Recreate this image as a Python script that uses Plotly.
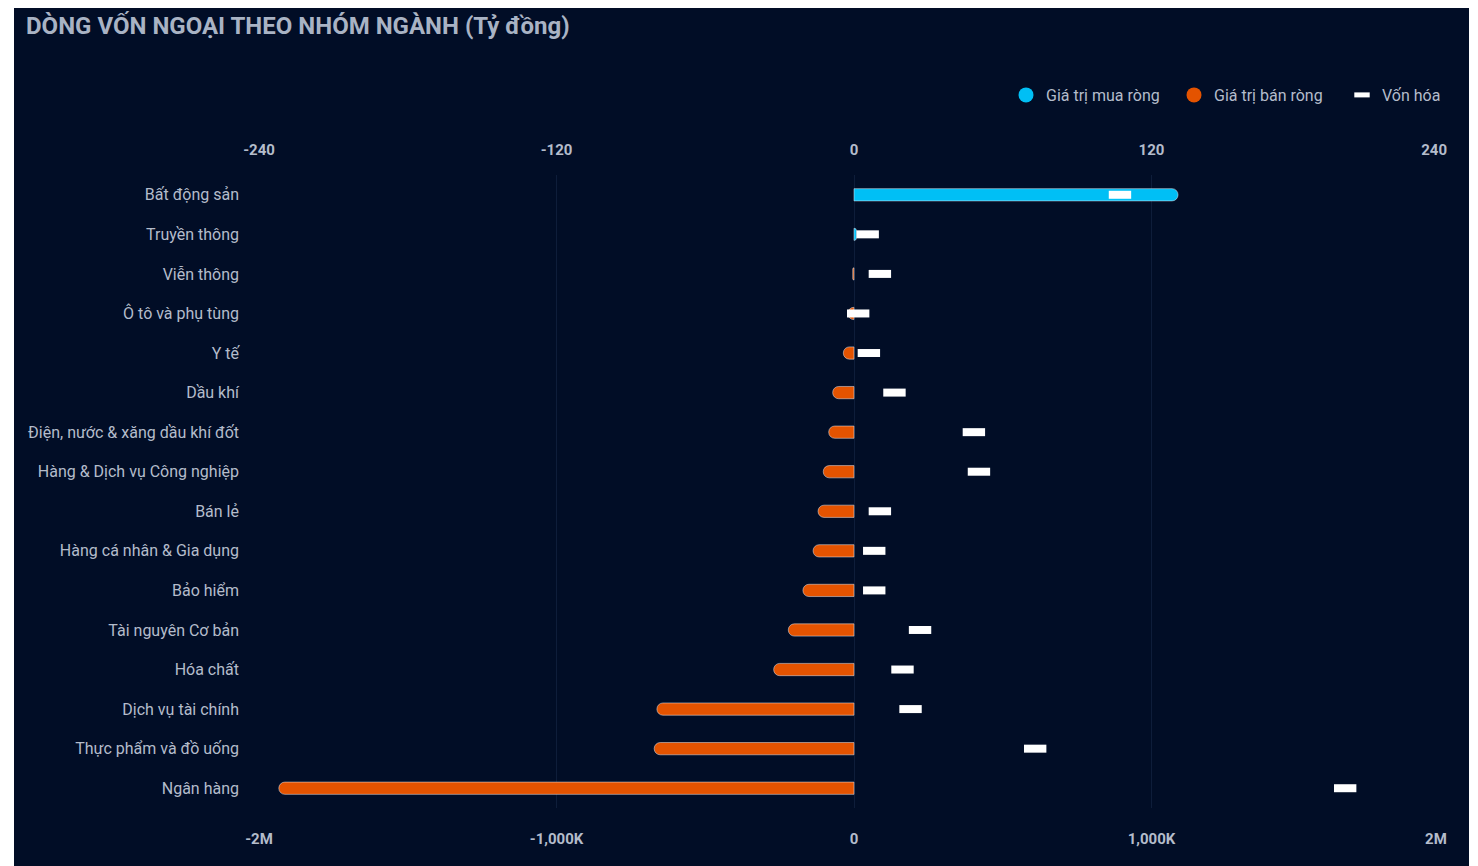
import plotly.graph_objects as go

categories = [
    "Bất động sản", "Truyền thông", "Viễn thông", "Ô tô và phụ tùng", "Y tế",
    "Dầu khí", "Điện, nước & xăng dầu khí đốt", "Hàng & Dịch vụ Công nghiệp",
    "Bán lẻ", "Hàng cá nhân & Gia dụng", "Bảo hiểm", "Tài nguyên Cơ bản",
    "Hóa chất", "Dịch vụ tài chính", "Thực phẩm và đồ uống", "Ngân hàng",
]
net_buy = [130.7, 1.0, None, None, None, None, None, None,
           None, None, None, None, None, None, None, None]
net_sell = [None, None, -0.5, -2.5, -4.3, -8.6, -10.2, -12.4,
            -14.5, -16.5, -20.6, -26.5, -32.4, -79.5, -80.6, -232.0]
market_cap = [894e3, 46e3, 87e3, 14e3, 50e3, 136e3, 403e3, 420e3,
              87e3, 68e3, 68e3, 222e3, 163e3, 190e3, 609e3, 1651e3]

top_ticks = [-240, -120, 0, 120, 240]
top_labels = ["-240", "-120", "0", "120", "240"]
bottom_ticks = [-2e6, -1e6, 0, 1e6, 2e6]
bottom_labels = ["-2M", "-1,000K", "0", "1,000K", "2M"]

BG = "#010d26"
BLUE = "#00bff5"
ORANGE = "#e45300"
TXT = "#b4bccb"
GRID = "#0e1d3a"
FONT = "Roboto"
NB = "\u00a0"

fig = go.Figure()
fig.add_trace(go.Bar(y=categories, x=net_buy, orientation="h", marker=dict(color=BLUE, cornerradius=6),
                     width=0.31, name="Giá trị mua ròng", showlegend=False, xaxis="x", yaxis="y"))
fig.add_trace(go.Bar(y=categories, x=net_sell, orientation="h", marker=dict(color=ORANGE, cornerradius=6),
                     width=0.31, name="Giá trị bán ròng", showlegend=False, xaxis="x", yaxis="y"))
fig.add_trace(go.Scatter(y=categories, x=market_cap, mode="markers", xaxis="x2", yaxis="y",
                         marker=dict(symbol="line-ew", size=16, line=dict(color="white", width=8)),
                         name="Vốn hóa", showlegend=False))
# legend entries
fig.add_trace(go.Scatter(x=[None], y=[None], mode="markers", name="Giá trị mua ròng",
                         marker=dict(symbol="circle", size=15, color=BLUE)))
fig.add_trace(go.Scatter(x=[None], y=[None], mode="markers", name="Giá trị bán ròng",
                         marker=dict(symbol="circle", size=15, color=ORANGE)))
fig.add_trace(go.Scatter(x=[None], y=[None], mode="markers", name="Vốn hóa",
                         marker=dict(symbol="line-ew", size=11, line=dict(color="white", width=8))))

# page has an 8px body margin: figure coords = page coords - 8
OFF = 8
W, H = 1478 - OFF, 866 - OFF
L, R, T, B = 259 - OFF, 1449 - OFF, 175 - OFF, 808 - OFF
pw, ph = R - L, B - T

def px_x(x):
    return (x - OFF - L) / pw

def px_y(y):
    return (B - (y - OFF)) / ph

# the outermost right labels sit slightly inside the plot edge
top_text = top_labels[:-1] + [top_labels[-1] + NB * 8]
bottom_text = bottom_labels[:-1] + [bottom_labels[-1] + NB * 7]

fig.update_layout(
    width=W, height=H,
    margin=dict(l=L, r=W - R, t=T, b=H - B, pad=0, autoexpand=False),
    paper_bgcolor="white",
    plot_bgcolor=BG,
    barmode="overlay",
    font=dict(family=FONT, color=TXT, size=16),
    title=dict(text="DÒNG VỐN NGOẠI THEO NHÓM NGÀNH (Tỷ đồng)", x=(26 - OFF) / W, xanchor="left",
               y=1 - (26 - OFF) / H, yanchor="middle", font=dict(family=FONT, size=24, color="#a9b3c4", weight="bold")),
    xaxis=dict(side="top", range=[-240, 240], tickvals=top_ticks, ticktext=top_text, showgrid=True, gridcolor=GRID,
               zeroline=True, zerolinecolor=GRID, zerolinewidth=1, showline=False, ticks="",
               tickfont=dict(size=15, color=TXT, weight="bold"), ticklabelstandoff=16, fixedrange=True),
    xaxis2=dict(overlaying="x", side="bottom", range=[-2e6, 2e6], tickvals=bottom_ticks,
                ticktext=bottom_text, showgrid=False, zeroline=False, ticks="",
                tickfont=dict(size=15, color=TXT, weight="bold"), ticklabelstandoff=20),
    yaxis=dict(range=[len(categories) - 0.5, -0.5], showgrid=False, zeroline=False, ticks="", showline=False,
               tickfont=dict(size=16, color=TXT), ticklabelstandoff=19),
    legend=dict(orientation="h", x=px_x(1006), xanchor="left", y=px_y(95), yanchor="middle",
                entrywidth=123, font=dict(size=16, color=TXT), bgcolor="rgba(0,0,0,0)", itemclick=False),
    shapes=[dict(type="rect", xref="paper", yref="paper", layer="below",
                 x0=px_x(14), x1=px_x(1469), y0=px_y(870), y1=px_y(6),
                 fillcolor=BG, line=dict(width=0))],
)

fig.write_html("out.html")
